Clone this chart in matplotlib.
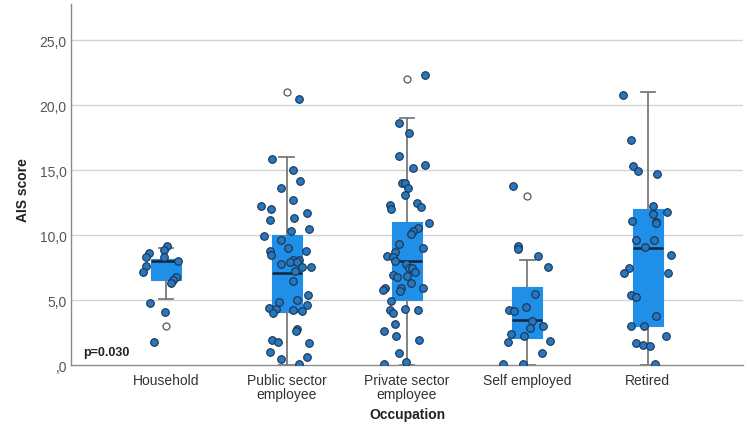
import matplotlib
matplotlib.use("Agg")
import matplotlib.pyplot as plt
from matplotlib.ticker import FuncFormatter

plt.rcParams['font.family'] = ['Liberation Sans', 'DejaVu Sans']

categories = ["Household", "Public sector\nemployee", "Private sector\nemployee",
              "Self employed", "Retired"]

# jittered AIS scores per group, with the horizontal jitter
household = [9.2, 8.85, 8.6, 8.35, 8.3, 8.0, 7.6, 7.2, 6.8, 6.55, 6.3, 4.75, 4.1, 1.8]
household_jit = [0.01, -0.02, -0.14, -0.17, -0.02, 0.10, -0.17, -0.19, 0.08, 0.06,
                 0.04, -0.13, -0.01, -0.10]

public = [20.5, 15.85, 15.0, 14.2, 13.6, 12.7, 12.25, 12.0, 11.7, 11.2, 11.3, 10.5,
          9.95, 10.3, 9.6, 9.0, 8.75, 8.8, 8.45, 8.1, 8.1, 7.8, 7.9, 7.95, 7.55, 7.55,
          7.25, 6.45, 5.4, 4.85, 5.0, 4.6, 4.4, 4.35, 4.0, 4.2, 4.15, 2.75, 2.6, 1.95,
          1.75, 1.7, 1.0, 0.65, 0.5, 0.05]
public_jit = [0.10, -0.12, 0.05, 0.11, -0.05, 0.05, -0.21, -0.13, 0.17, -0.14, 0.06,
              0.19, -0.19, 0.04, -0.05, 0.01, -0.14, 0.16, -0.13, 0.05, 0.10, -0.05,
              0.03, 0.09, 0.13, 0.20, 0.07, 0.05, 0.18, -0.06, 0.09, 0.17, -0.15, -0.09,
              -0.11, 0.05, 0.13, 0.09, 0.08, -0.12, -0.07, 0.19, -0.14, 0.17, -0.05, 0.10]

private = [22.3, 18.6, 17.9, 16.1, 15.4, 15.15, 14.05, 14.05, 13.6, 13.1, 12.35, 12.05,
           12.5, 12.2, 10.95, 10.55, 10.35, 10.1, 9.3, 9.0, 8.7, 8.4, 8.3, 8.0, 7.75,
           7.5, 7.45, 7.2, 6.95, 6.8, 6.85, 6.35, 5.9, 5.7, 5.9, 5.9, 5.75, 4.95, 4.3,
           4.25, 4.2, 4.0, 3.15, 2.65, 2.2, 1.95, 0.95, 0.05, 0.2]
private_jit = [0.15, -0.07, 0.02, -0.07, 0.15, 0.05, -0.04, -0.02, 0.01, -0.02, -0.14,
               -0.13, 0.08, 0.12, 0.18, 0.09, 0.05, 0.03, -0.07, 0.13, -0.10, -0.17,
               -0.12, -0.10, -0.01, 0.02, 0.04, 0.07, -0.12, -0.08, 0.0, 0.03, -0.05,
               -0.06, 0.13, -0.18, -0.20, -0.13, -0.02, 0.09, -0.14, -0.12, -0.10,
               -0.19, -0.09, 0.10, -0.07, -0.19, -0.01]

self_emp = [13.75, 9.2, 8.9, 8.4, 7.55, 5.5, 4.5, 4.25, 4.15, 3.4, 3.0, 2.85, 2.35,
            2.25, 1.8, 1.85, 0.9, 0.1, 0.05]
self_emp_jit = [-0.12, -0.08, -0.08, 0.09, 0.17, 0.06, -0.01, -0.15, -0.11, 0.04, 0.13,
                0.02, -0.14, -0.03, -0.16, 0.19, 0.12, -0.20, -0.04]

retired = [20.8, 17.35, 15.3, 14.95, 14.7, 12.25, 11.8, 11.6, 11.1, 11.0, 10.9, 9.6,
           9.6, 9.05, 8.5, 7.45, 7.05, 7.05, 5.4, 5.2, 3.75, 3.0, 3.0, 2.25, 1.7, 1.55,
           1.5, 0.05]
retired_jit = [-0.21, -0.14, -0.12, -0.08, 0.08, 0.04, 0.16, 0.04, -0.13, 0.07, 0.07,
               -0.10, 0.05, -0.02, 0.19, -0.16, -0.20, 0.17, -0.14, -0.10, 0.07, -0.14,
               -0.03, 0.15, -0.10, -0.04, 0.02, 0.06]

# box summaries as drawn (SPSS)
whislo = [5.05, 0.0, 0.0, 0.0, 0.0]
q1 = [6.55, 4.05, 5.0, 2.1, 3.0]
med = [8.0, 7.05, 8.0, 3.5, 9.0]
q3 = [8.2, 10.0, 11.0, 6.0, 12.0]
whishi = [9.0, 16.0, 19.0, 8.1, 21.0]
outliers = [[3.0], [21.0], [22.0], [13.0], []]

groups = [household, public, private, self_emp, retired]
jitters = [household_jit, public_jit, private_jit, self_emp_jit, retired_jit]

fig = plt.figure(figsize=(7.5, 4.31), dpi=100)
ax = fig.add_axes([71 / 750, 1 - 366 / 431, 672 / 750, 361 / 431])

for v in [5, 10, 15, 20, 25]:
    ax.axhline(v, color='#d4d4d4', lw=1, zorder=0)

stats = []
for i in range(len(categories)):
    stats.append(dict(whislo=whislo[i], q1=q1[i], med=med[i], q3=q3[i],
                      whishi=whishi[i], fliers=outliers[i]))

ax.bxp(stats, positions=range(len(categories)), widths=0.25, capwidths=0.12,
       patch_artist=True, showfliers=True,
       boxprops=dict(facecolor='#1f8fe8', edgecolor='#1f8fe8', lw=0.8),
       medianprops=dict(color='#14233a', lw=1.8),
       whiskerprops=dict(color='#7a7a7a', lw=1.3),
       capprops=dict(color='#7a7a7a', lw=1.3),
       flierprops=dict(marker='o', markerfacecolor='white', markeredgecolor='#555555',
                       markersize=5, markeredgewidth=0.9))

for i, (vals, jit) in enumerate(zip(groups, jitters)):
    xs = [i + j for j in jit]
    ax.scatter(xs, vals, s=30, color='#2677bf', edgecolor='#1b3350', linewidth=0.8,
               zorder=4)

ax.set_xlim(-0.79, 4.79)
ax.set_ylim(0, 27.8)
ax.set_xticks(range(len(categories)))
ax.set_xticklabels(categories, fontsize=10, color='#333333', linespacing=1.0)
ax.set_yticks([0, 5, 10, 15, 20, 25])


def fmt(v, pos):
    s = f"{v:.1f}".replace('.', ',')
    return s[1:] if s.startswith('0') else s


ax.yaxis.set_major_formatter(FuncFormatter(fmt))
ax.tick_params(axis='y', length=0, pad=3, labelsize=10, labelcolor='#555555')
ax.tick_params(axis='x', length=0, pad=6)

for side in ['top', 'right']:
    ax.spines[side].set_visible(False)
for side in ['left', 'bottom']:
    ax.spines[side].set_color('#8a8a8a')
    ax.spines[side].set_linewidth(1.0)

ax.text(0.018, 1.0, "p=0.030", transform=ax.get_yaxis_transform(), fontsize=9,
        fontweight='bold', color='#222222', va='center', ha='left')
fig.text(23 / 750, 1 - 190 / 431, "AIS score", rotation=90, ha='center', va='center',
         fontsize=10, fontweight='bold', color='#222222')
fig.text(407 / 750, 1 - 415 / 431, "Occupation", ha='center', va='center',
         fontsize=10, fontweight='bold', color='#222222')

fig.savefig("out.png", dpi=100)
